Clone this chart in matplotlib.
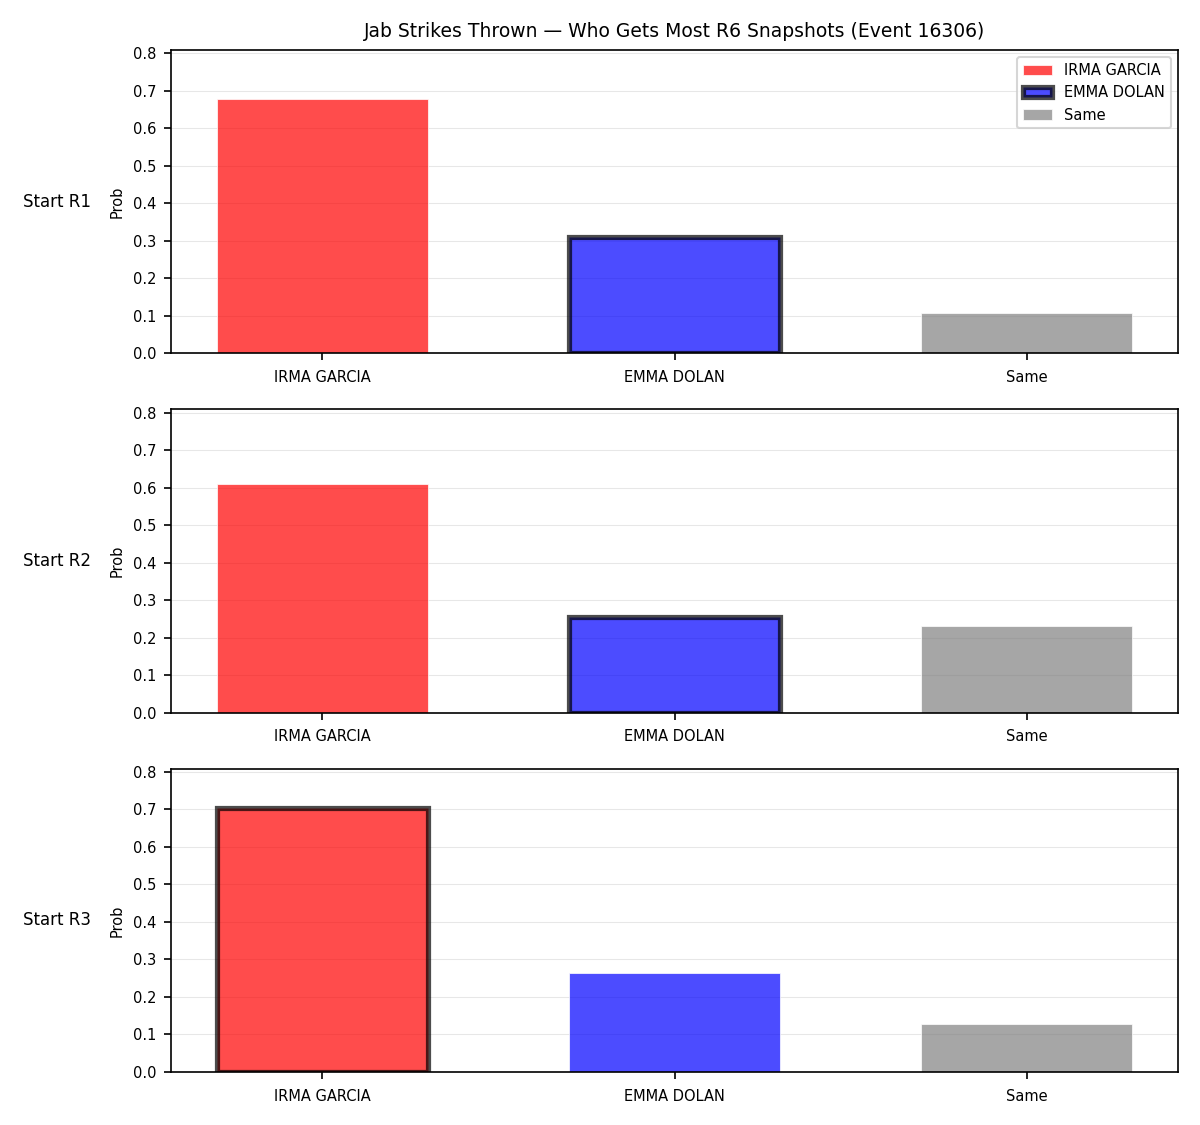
import matplotlib
matplotlib.use('Agg')
import matplotlib.pyplot as plt
import numpy as np

# Probability of landing the most jab snapshots, by starting round
categories = ['IRMA GARCIA', 'EMMA DOLAN', 'Same']
rows = ['Start R1', 'Start R2', 'Start R3']
probs = [
    [0.678, 0.309, 0.106],
    [0.610, 0.254, 0.230],
    [0.703, 0.263, 0.128],
]
# index of the bar drawn with a dark outline in each row
highlight = [1, 1, 0]
colors = ['red', 'blue', 'gray']

fig, axes = plt.subplots(3, 1, figsize=(8, 7.5), dpi=150)
fig.subplots_adjust(left=0.1425, right=0.9817, top=0.9556, bottom=0.0471, hspace=0.185)

ymax = max(max(p) for p in probs) * 1.15
x = np.arange(len(categories))

for i, ax in enumerate(axes):
    bars = ax.bar(x, probs[i], width=0.6, color=colors, alpha=0.7,
                  edgecolor='white', linewidth=0.5)
    hb = bars[highlight[i]]
    hb.set_edgecolor('black')
    hb.set_linewidth(2.5)
    ax.set_xticks(x)
    ax.set_xticklabels(categories)
    ax.tick_params(labelsize=7)
    ax.tick_params(axis='x', pad=4.5)
    ax.set_ylim(0, ymax)
    ax.set_ylabel('Prob', fontsize=7)
    ax.grid(True, axis='y', alpha=0.3, linewidth=0.5)
    ax.set_axisbelow(True)
    pos = ax.get_position()
    fig.text(0.0475, (pos.y0 + pos.y1) / 2, rows[i], ha='center', va='center', fontsize=8)
    if i == 0:
        ax.legend(bars, categories, loc='upper right', fontsize=7)

axes[0].set_title('Jab Strikes Thrown \u2014 Who Gets Most R6 Snapshots (Event 16306)', fontsize=9)

plt.savefig('out.png')
